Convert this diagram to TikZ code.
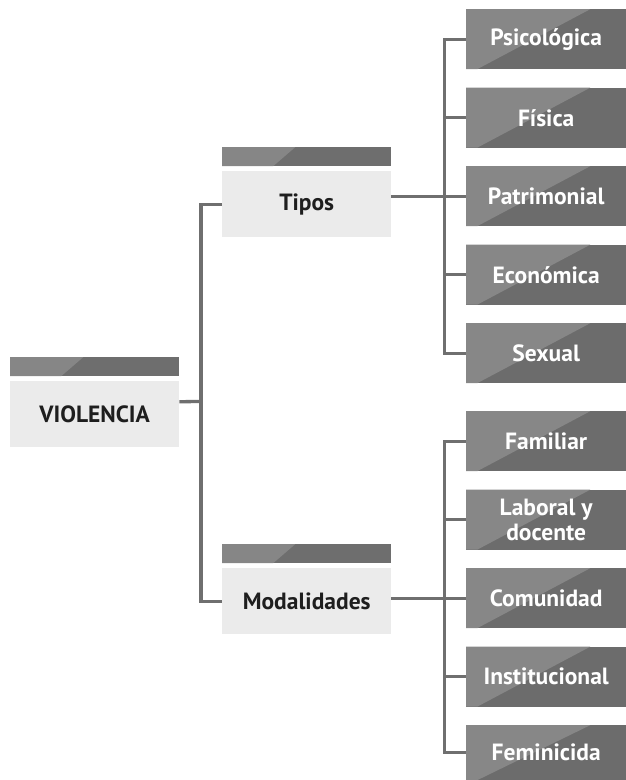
\documentclass[tikz,border=0pt]{standalone}
\usepackage{fontspec}
\setmainfont{PT Sans}
\definecolor{lightbox}{HTML}{EBEBEB}
\definecolor{bardark}{HTML}{6E6E6E}
\definecolor{barlight}{HTML}{868686}
\definecolor{boxdark}{HTML}{6C6C6C}
\definecolor{boxlight}{HTML}{878787}
\definecolor{linegray}{HTML}{6F6F6F}
\definecolor{txt}{HTML}{1E1E1E}
\tikzset{
  lbox/.style={fill=lightbox, minimum width=169pt, minimum height=66pt, inner sep=0pt, anchor=north west, text=txt, font=\fontsize{23.5}{25}\selectfont\bfseries},
  barbox/.style={fill=bardark, minimum width=169pt, minimum height=19pt, inner sep=0pt, anchor=north west,
    path picture={\fill[barlight] (path picture bounding box.north west) -- ++(73pt,0pt) -- ([xshift=51pt]path picture bounding box.south west) -- (path picture bounding box.south west) -- cycle;}},
  dbox/.style={fill=boxdark, minimum width=160pt, minimum height=60pt, inner sep=0pt, anchor=north west, text=white, align=center, font=\fontsize{23.5}{25}\selectfont\bfseries,
    path picture={\fill[boxlight] (path picture bounding box.north west) -- ++(124pt,0pt) -- ([xshift=11pt]path picture bounding box.south west) -- (path picture bounding box.south west) -- cycle;}},
  conn/.style={draw=linegray, line width=3.3pt, line cap=butt, line join=miter}
}
\begin{document}
\begin{tikzpicture}[x=1pt,y=-1pt]
\useasboundingbox (0,0) rectangle (626,780);
% left column
\node[barbox] (vbar) at (10,357) {};
\node[lbox] (viol) at (10,381) {VIOLENCIA};
\node[barbox] (tbar) at (222,147) {};
\node[lbox] (tipos) at (222,171) {Tipos};
\node[barbox] (mbar) at (222,544) {};
\node[lbox] (modal) at (222,568) {Modalidades};
% tipos
\node[dbox] (psic) at (466,9) {Psicológica};
\node[dbox] (fisi) at (466,87.5) {Física};
\node[dbox] (patr) at (466,166) {Patrimonial};
\node[dbox] (econ) at (466,244.5) {Económica};
\node[dbox] (sexu) at (466,323) {Sexual};
% modalidades
\node[dbox] (fami) at (466,411) {Familiar};
\node[dbox] (labo) at (466,489.5) {Laboral y\\docente};
\node[dbox] (comu) at (466,568) {Comunidad};
\node[dbox] (inst) at (466,646.5) {Institucional};
\node[dbox, minimum height=55pt] (femi) at (466,725) {Feminicida};
% junction coordinates
\coordinate (jl) at (201,401.5);
\coordinate (jt) at (444.5,200);
\coordinate (jm) at (444.5,600);
% connectors
\draw[conn] ([yshift=12.5pt]viol.east) -- (jl);
\draw[conn] (tipos.west) -| (jl) |- (modal.west);
\draw[conn] (psic.west) -| (jt) |- (sexu.west);
\draw[conn] (fisi.west) -- (fisi.west -| jt);
\draw[conn] (econ.west) -- (econ.west -| jt);
\draw[conn] (tipos.east |- patr.west) -- (patr.west);
\draw[conn] (fami.west) -| (jm) |- (femi.west);
\draw[conn] (labo.west) -- (labo.west -| jm);
\draw[conn] (inst.west) -- (inst.west -| jm);
\draw[conn] (modal.east |- comu.west) -- (comu.west);
\end{tikzpicture}
\end{document}
